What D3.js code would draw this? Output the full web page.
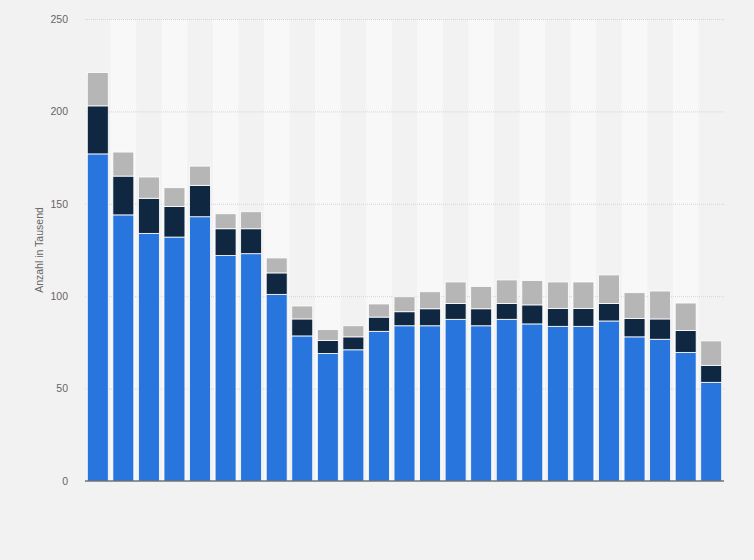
<!DOCTYPE html>
<html>
<head>
<meta charset="utf-8">
<script src="https://cdn.jsdelivr.net/npm/d3@7"></script>
<style>
  body { margin: 0; background: #f2f2f2; }
  svg { display: block; font-family: "Liberation Sans", Arial, sans-serif; }
</style>
</head>
<body>
<div id="container"></div>
<script>
let w = 754;
let h = 560;

// values (Tausend)
let blueValues = [177, 144, 134, 132, 143, 122, 123, 101, 78.5, 69, 71, 81, 84, 84, 87.5, 84, 87.5, 85, 83.7, 83.7, 86.6, 78, 76.7, 69.6, 53.4];
let navyValues = [26, 21, 19, 16.5, 17, 14.5, 13.5, 11.6, 9.2, 7, 7, 7.7, 7.6, 9.2, 8.6, 9.2, 8.6, 10.3, 9.7, 9.7, 9.5, 9.9, 11, 11.9, 9.2];
let grayValues = [18, 13, 11.5, 10.2, 10.4, 8.1, 9.2, 8.1, 7, 5.9, 6, 7.1, 8.1, 9.2, 11.6, 12.1, 12.7, 13.2, 14.3, 14.3, 15.4, 14, 15.1, 14.8, 13.2];
let yTicks = [0, 50, 100, 150, 200, 250];
let yLabel = "Anzahl in Tausend";

let categories = blueValues.map(function(d, i){ return i; });
let seriesKeys = ["blue", "navy", "gray"];
let colors = { blue: "#2876dd", navy: "#0f2740", gray: "#b6b6b6" };

let rows = categories.map(function(c, i){
  return { cat: c, blue: blueValues[i], navy: navyValues[i], gray: grayValues[i] };
});

let plotLeft = 85;
let plotRight = 724;
let plotTop = 19;
let plotBottom = 481;

let viz = d3.select("#container")
  .append("svg")
    .attr("width", w)
    .attr("height", h)
;

viz.append("rect").attr("width", w).attr("height", h).attr("fill", "#f2f2f2");

let xScale = d3.scaleBand().domain(categories).range([plotLeft, plotRight]).paddingInner(0.18).paddingOuter(0.09);
let stripeScale = d3.scaleBand().domain(categories).range([plotLeft, plotRight]);
let yScale = d3.scaleLinear().domain([0, 250]).range([plotBottom, plotTop]);

// alternating column stripes
viz.append("g").selectAll("rect")
  .data(categories.filter(function(c){ return c % 2 == 1; }))
  .enter().append("rect")
    .attr("x", function(d){ return stripeScale(d); })
    .attr("y", plotTop)
    .attr("width", stripeScale.bandwidth())
    .attr("height", plotBottom - plotTop)
    .attr("fill", "#f8f8f8")
;

// grid
let yAxis = d3.axisLeft(yScale).tickValues(yTicks).tickSize(-(plotRight - plotLeft)).tickPadding(17);
let yAxisGroup = viz.append("g").attr("transform", "translate(" + plotLeft + ", 0)").call(yAxis);
yAxisGroup.select(".domain").remove();
yAxisGroup.selectAll(".tick line")
  .attr("stroke", "#d4d4d4")
  .attr("stroke-dasharray", "1,1")
;
yAxisGroup.selectAll(".tick text")
  .attr("fill", "#666")
  .attr("font-size", "10.5px")
;
yAxisGroup.selectAll(".tick").filter(function(d){ return d == 0; }).select("line").remove();

// stacked bars
let stacked = d3.stack().keys(seriesKeys)(rows);
viz.append("g").selectAll("g")
  .data(stacked)
  .enter().append("g")
    .attr("fill", function(d){ return colors[d.key]; })
  .selectAll("rect")
  .data(function(d){ return d; })
  .enter().append("rect")
    .attr("x", function(d){ return xScale(d.data.cat); })
    .attr("y", function(d){ return yScale(d[1]); })
    .attr("width", xScale.bandwidth())
    .attr("height", function(d){ return yScale(d[0]) - yScale(d[1]); })
    .attr("stroke", "#ffffff")
    .attr("stroke-width", 0.8)
;

// x axis line
viz.append("line")
  .attr("x1", plotLeft).attr("x2", plotRight)
  .attr("y1", plotBottom).attr("y2", plotBottom)
  .attr("stroke", "#333")
  .attr("stroke-width", 1.2)
;

// y label
viz.append("text")
  .text(yLabel)
  .attr("transform", "translate(43, " + ((plotTop + plotBottom) / 2) + ") rotate(-90)")
  .attr("text-anchor", "middle")
  .attr("fill", "#666")
  .attr("font-size", "10.5px")
;
</script>
</body>
</html>
